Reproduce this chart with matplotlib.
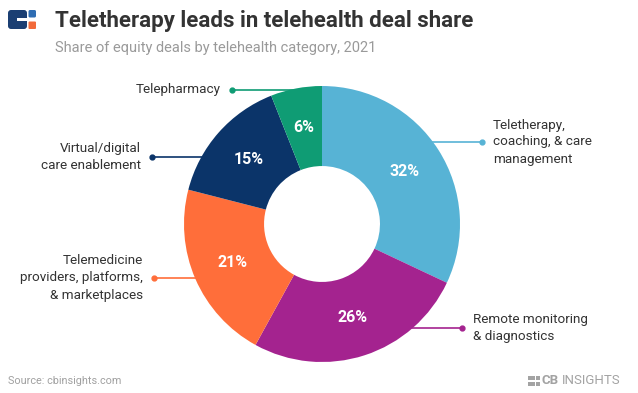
import matplotlib
matplotlib.use("Agg")
import matplotlib.pyplot as plt
from matplotlib.patches import Rectangle, FancyBboxPatch
import numpy as np

categories = ["Teletherapy,\ncoaching, & care\nmanagement",
              "Remote monitoring\n& diagnostics",
              "Telemedicine\nproviders, platforms,\n& marketplaces",
              "Virtual/digital\ncare enablement",
              "Telepharmacy"]
shares = [32, 26, 21, 15, 6]
colors = ["#57B3D5", "#A4238F", "#FF6E3A", "#0B3469", "#0F9C74"]

W, H = 638, 393
fig = plt.figure(figsize=(W / 100, H / 100), dpi=100)
fig.patch.set_facecolor("white")

cx, cy, R = 322, 224, 138
ax = fig.add_axes([(cx - R) / W, (H - cy - R) / H, 2 * R / W, 2 * R / H])

inner = 0.42
wedges, _ = ax.pie(shares, colors=colors, startangle=90, counterclock=False,
                   radius=1, wedgeprops=dict(width=1 - inner, edgecolor="none"))
ax.set_xlim(-1, 1)
ax.set_ylim(-1, 1)
ax.set_aspect("equal")
ax.axis("off")

mid_r = (1 + inner) / 2
for w, s in zip(wedges, shares):
    am = np.deg2rad((w.theta1 + w.theta2) / 2)
    ax.text(mid_r * np.cos(am), mid_r * np.sin(am), f"{s}%", color="white",
            fontsize=11.5, fontweight="bold", family="Roboto",
            ha="center", va="center")

def px2d(px, py):
    return (px - cx) / R, (cy - py) / R

label_specs = [
    (482, 142, "right"),
    (462, 328, "right"),
    (154, 278, "left"),
    (152, 157, "left"),
    (232, 90, "left"),
]
for (dpx, dpy, side), lab, col in zip(label_specs, categories, colors):
    dx, dy = px2d(dpx, dpy)
    sgn = 1 if side == "right" else -1
    ex = sgn * (np.sqrt(max(0, 1 - dy ** 2)) - 0.04)
    ax.plot([ex, dx], [dy, dy], color=col, lw=1.2, clip_on=False,
            solid_capstyle="butt")
    ax.plot([dx], [dy], "o", color=col, ms=3.5, clip_on=False)
    ax.text(dx + sgn * 11 / R, dy, lab, ha="left" if side == "right" else "right",
            va="center", fontsize=9.7, family="Roboto", color="#333333",
            linespacing=1.4, clip_on=False,
            multialignment="left" if side == "right" else "right")

# overlay axes in pixel coords
lax = fig.add_axes([0, 0, 1, 1], facecolor="none")
lax.set_xlim(0, W)
lax.set_ylim(H, 0)
lax.axis("off")
navy = "#1B3F73"
lax.add_patch(FancyBboxPatch((8, 10), 19, 19, boxstyle="round,pad=0,rounding_size=3",
                             color=navy, lw=0))
lax.add_patch(Rectangle((17, 18), 10.5, 3, color="white", lw=0))
lax.add_patch(FancyBboxPatch((28.5, 10), 7.5, 7.5, boxstyle="round,pad=0,rounding_size=1.5",
                             color="#2F6DB3", lw=0))
lax.add_patch(FancyBboxPatch((28.5, 21.5), 7.5, 7.5, boxstyle="round,pad=0,rounding_size=1",
                             color="#F26A3A", lw=0))

fig.text(55 / W, 1 - 21 / H, "Teletherapy leads in telehealth deal share",
         fontsize=16, fontweight="bold", family="Roboto", color="#333333",
         ha="left", va="center")
fig.text(55 / W, 1 - 48 / H, "Share of equity deals by telehealth category, 2021",
         fontsize=10.5, family="Roboto", color="#9A9A9A", ha="left", va="center")
fig.text(8 / W, 1 - 381 / H, "Source: cbinsights.com", fontsize=7.8,
         family="Roboto", color="#A0A0A0", ha="left", va="center")

grey = "#A3A3A3"
lax.add_patch(Rectangle((528, 376), 7, 4, color=grey, lw=0))
lax.add_patch(Rectangle((528, 382), 7, 4, color=grey, lw=0))
lax.add_patch(Rectangle((536, 376), 4, 4, color=grey, lw=0))
lax.add_patch(Rectangle((536, 382), 4, 4, color=grey, lw=0))
fig.text(542 / W, 1 - 381 / H, "CB", fontsize=9.5, fontweight="bold",
         family="Roboto", color=grey, ha="left", va="center")
fig.text(562 / W, 1 - 381 / H, "INSIGHTS", fontsize=9.5,
         family="Roboto", color=grey, ha="left", va="center")

fig.savefig("out.png", dpi=100, facecolor="white")
